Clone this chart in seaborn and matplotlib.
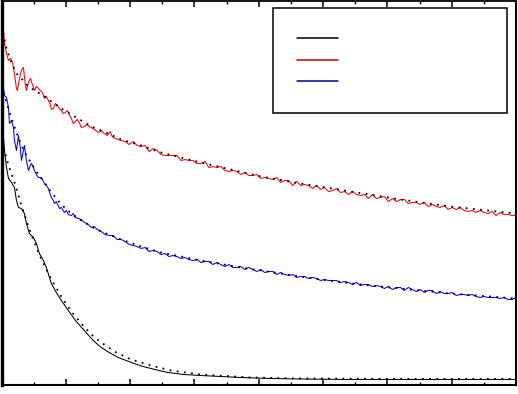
import matplotlib
matplotlib.use("Agg")
import numpy as np
import pandas as pd
import matplotlib.pyplot as plt
import seaborn as sns
from matplotlib.ticker import MultipleLocator
from matplotlib.lines import Line2D

# ---------------- data (arbitrary units) ----------------
red_x = [0, 2, 3, 5, 7, 9, 11, 13, 15, 16, 18, 20, 22, 24, 25, 27, 29, 31, 33, 35, 37, 39, 41, 43, 45, 47, 49, 50,
         52, 54, 56, 58, 60, 62, 64, 66, 68, 70, 72, 74, 76, 78, 80, 83, 86, 88, 90, 93, 96, 98, 100, 103, 106, 109,
         111, 114, 117, 120, 124, 128, 132, 136, 140, 144, 148, 152, 156, 160, 164, 168, 172, 176, 180, 184, 188,
         192, 196, 200, 204, 208, 212, 216, 220, 224, 228, 232, 236, 240, 244, 248, 252, 256, 260, 264, 268, 272,
         276, 280, 284, 288, 292, 296, 300, 304, 308, 312, 316, 320, 324, 328, 332, 336, 340, 344, 348, 352, 356,
         360, 364, 368, 372, 376, 380, 384, 388, 392, 396, 400, 404, 408, 412, 416, 420, 424, 428, 432, 436, 440,
         444, 448, 452, 456, 460, 464, 468, 472, 476, 480, 484, 488, 492, 496, 500, 504, 508, 512, 516]
red_y = [364, 354, 341, 331, 324, 326, 322, 311, 296, 294, 306, 314, 317, 299, 294, 302, 306, 300, 294, 298, 296, 294,
         292, 286, 288, 284, 280, 275, 276, 281, 279, 276, 274, 271, 272, 274, 270, 266, 261, 263, 265, 262, 257, 258,
         260, 258, 257, 255, 253, 252, 254, 251, 249, 253, 248, 246, 245, 244,
         243, 240, 243, 239, 238, 239, 233, 236, 234, 230, 229, 229, 229, 229, 224, 225, 224, 224, 221, 221, 223, 217,
         218, 217, 218, 214, 213, 214, 213, 210, 212, 209, 209, 210, 206, 207, 206, 205, 207, 202, 204, 204, 199, 203,
         199, 200, 199, 196, 199, 195, 197, 193, 194, 196, 192, 193, 190, 193, 190, 189, 190, 186, 190, 186, 187, 188,
         183, 186, 183, 185, 185, 181, 182, 182, 180, 182, 178, 180, 178, 177, 179, 175, 177, 175, 177, 174, 173, 174,
         172, 174, 172, 171, 173, 169, 172, 170, 170, 169, 169]

red_fit_x = [0, 5, 10, 15, 20, 25, 30, 35, 40, 45, 50, 60, 70, 80, 90, 100, 120, 140, 160, 180, 200, 230, 260, 300,
             350, 400, 450, 516]
red_fit_y = [359, 336, 322, 311, 306, 300, 296, 293, 290, 287, 283, 276, 270, 264, 258, 254, 245, 239, 232, 227, 222,
             215, 208, 201, 193, 185, 178, 171]

blue_x = [0, 1, 3, 5, 7, 8, 10, 12, 13, 15, 17, 19, 20, 22, 23, 25, 27, 29, 30, 32, 33, 35, 37, 40, 43, 45, 47, 49,
          50, 52, 53, 55, 58, 60, 63, 65, 67, 70, 72, 74, 77, 80, 83, 86, 88, 90, 93, 96, 98, 100, 104, 108, 112,
          116, 120, 124, 128, 132, 136, 140, 144, 148, 152, 156, 160, 164, 168, 172, 176, 180, 184, 188, 192, 196,
          200, 204, 208, 212, 216, 220, 224, 228, 232, 236, 240, 244, 248, 252, 256, 260, 264, 268, 272, 276, 280,
          284, 288, 292, 296, 300, 304, 308, 312, 316, 320, 324, 328, 332, 336, 340, 344, 348, 352, 356, 360, 364,
          368, 372, 376, 380, 384, 388, 392, 396, 400, 404, 408, 412, 416, 420, 424, 428, 432, 436, 440, 444, 448,
          452, 456, 460, 464, 468, 472, 476, 480, 484, 488, 492, 496, 500, 504, 508, 512, 516]
blue_y = [307, 304, 289, 287, 277, 261, 264, 257, 244, 234, 249, 236, 224, 234, 239, 224, 214, 219, 221, 217, 214, 210,
          207, 207, 201, 199, 196, 190, 187, 184, 181, 183, 176, 177, 172, 174, 170, 169, 171, 167, 166, 165, 162, 161,
          159, 157, 158, 155, 154,
          153, 150, 149, 149, 145, 145, 143, 140, 139, 138, 136, 137, 133, 134, 133, 130, 131, 128, 129, 128, 126, 127,
          125, 124, 125, 122, 123, 123, 120, 122, 120, 118, 120, 117, 117, 118, 115, 117, 115, 113, 115, 112, 113, 113,
          110, 112, 110, 109, 110, 107, 108, 108, 106, 107, 106, 104, 105, 104, 104, 104, 102, 103, 102, 100, 102, 99,
          100, 100, 98, 99, 98, 96, 98, 95, 97, 97, 94, 97, 95, 93, 95, 92, 94, 94, 91, 93, 91, 91, 92, 89, 90, 90, 89,
          90, 88, 87, 88, 87, 87, 87, 86, 87, 85, 85, 87]

blue_fit_x = [0, 5, 10, 15, 20, 25, 30, 35, 40, 50, 60, 70, 80, 90, 100, 120, 140, 160, 180, 200, 240, 280, 320, 360,
              400, 450, 516]
blue_fit_y = [299, 282, 266, 252, 239, 229, 221, 213, 206, 192, 180, 171, 164, 158, 153, 145, 138, 132, 128, 124, 117,
              111, 105, 100, 96, 91, 86]

black_x = [0, 2, 3, 5, 7, 10, 13, 15, 17, 20, 23, 25, 28, 32, 35, 38, 42, 45, 50, 55, 60, 67, 75, 83, 92, 100, 108,
           117, 125, 133, 142, 150, 158, 167, 175, 183, 200, 220, 240, 270, 300, 350, 400, 450, 516]
black_y = [249, 247, 234, 217, 206, 202, 197, 184, 177, 176, 171, 161, 151, 147, 141, 131, 124, 117, 101, 92, 84, 74,
           63, 54, 44, 37, 32, 27, 24, 21, 18, 16, 14, 12, 11, 10, 9, 8, 7, 6, 5.5, 5, 5, 5, 5]

black_fit_x = [0, 3, 7, 10, 15, 20, 25, 30, 35, 40, 50, 60, 70, 80, 90, 100, 115, 130, 150, 170, 200, 250, 300, 400, 516]
black_fit_y = [244, 234, 219, 211, 196, 179, 164, 150, 137, 125, 105, 88, 73, 61, 50, 42, 32, 25, 19, 14, 10, 7, 6,
               5.6, 5.6]

# ---------------- figure ----------------
sns.set_theme(style="white")
plt.rcParams["font.family"] = ["DejaVu Sans"]

fig = plt.figure(figsize=(5.18, 3.94), dpi=100)
ax = fig.add_axes([1.5 / 518, 9.5 / 394, 514.5 / 518, 383.5 / 394])

series = [
    (black_x, black_y, black_fit_x, black_fit_y, "black"),
    (red_x, red_y, red_fit_x, red_fit_y, "#ff0000"),
    (blue_x, blue_y, blue_fit_x, blue_fit_y, "#0000ff"),
]
for sx, sy, fx, fy, col in series:
    sns.lineplot(x=sx, y=sy, color=col, lw=0.75, ax=ax, estimator=None, sort=False)
for sx, sy, fx, fy, col in series:
    sns.lineplot(x=fx, y=fy, color="black", lw=1.3, ax=ax, estimator=None, sort=False,
                 linestyle=(0, (1, 3)))

ax.set_xlim(0, 516)
ax.set_ylim(0, 383.5)
ax.set_xlabel("")
ax.set_ylabel("")

ax.xaxis.set_major_locator(MultipleLocator(64.5))
ax.xaxis.set_minor_locator(MultipleLocator(32.25))
ax.tick_params(axis="x", which="both", direction="in", top=True, bottom=True,
               labelbottom=False, labeltop=False, color="black")
ax.tick_params(axis="x", which="major", length=4.5, width=1.1)
ax.tick_params(axis="x", which="minor", length=2.3, width=1.0)
ax.tick_params(axis="y", which="both", left=False, right=False, labelleft=False)

for side, lw in [("left", 2.4), ("bottom", 1.5), ("top", 1.3), ("right", 1.5)]:
    ax.spines[side].set_visible(True)
    ax.spines[side].set_color("black")
    ax.spines[side].set_linewidth(lw)

handles = [Line2D([], [], color="black", lw=1.1),
           Line2D([], [], color="#cc0000", lw=1.1),
           Line2D([], [], color="#000099", lw=1.1)]
leg = ax.legend(handles, [" ", " ", " "], loc="upper left",
                bbox_to_anchor=(273 / 518, 0, 234 / 518, 1 - 8 / 394),
                bbox_transform=fig.transFigure, mode="expand", borderaxespad=0,
                frameon=True, fancybox=False, fontsize=10, handlelength=2.95,
                borderpad=1.7, labelspacing=0.56, handletextpad=0.8)
leg.get_frame().set_edgecolor("black")
leg.get_frame().set_linewidth(1.1)
leg.get_frame().set_alpha(1)

fig.savefig("out.png", dpi=100)
